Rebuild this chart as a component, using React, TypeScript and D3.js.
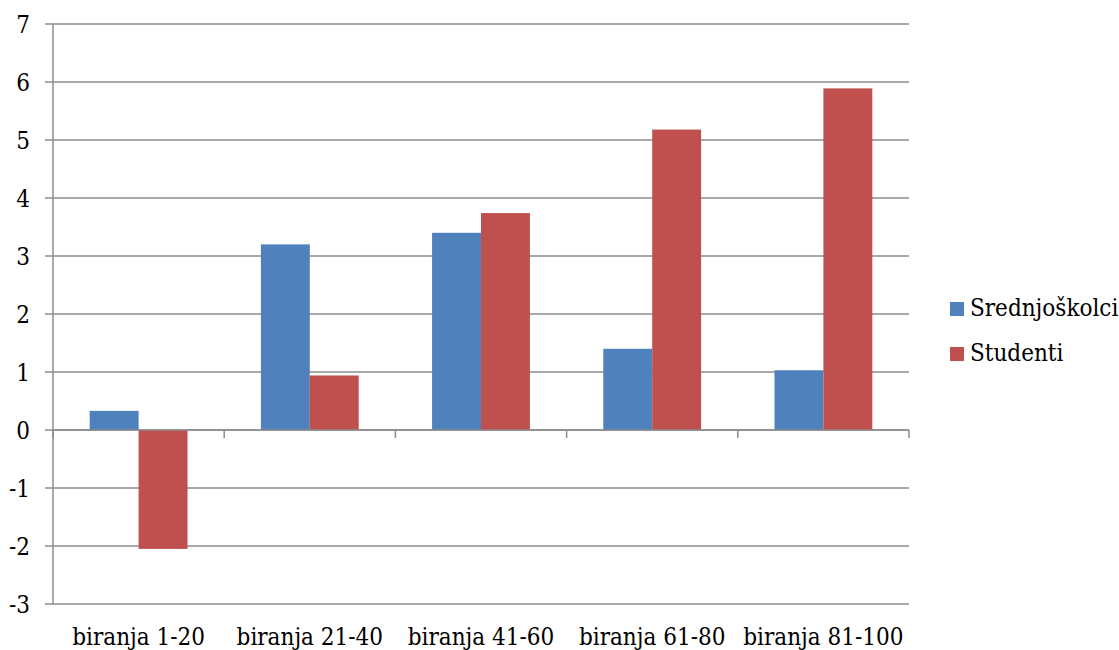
import { useRef, useEffect } from 'react';
import * as d3 from 'd3';

const categories = ['biranja 1-20', 'biranja 21-40', 'biranja 41-60', 'biranja 61-80', 'biranja 81-100'];
const seriesNames = ['Srednjoškolci', 'Studenti'];
const srednjoskolci = [0.33, 3.2, 3.4, 1.4, 1.03];
const studenti = [-2.05, 0.94, 3.74, 5.18, 5.89];
const yTicks = [-3, -2, -1, 0, 1, 2, 3, 4, 5, 6, 7];
const colors = ['#4F81BD', '#C0504D'];

const width = 1119;
const height = 650;
const marginLeft = 53;
const marginRight = 210;
const marginTop = 24;
const marginBottom = 46;
const font = "'DejaVu Serif Condensed', 'DejaVu Serif'";
const gridColor = '#8c8c8c';

export default function App() {
  const gx = useRef<SVGGElement>(null);

  const x = d3.scaleBand(categories, [marginLeft, width - marginRight]).paddingInner(0).paddingOuter(0);
  const xs = d3.scaleBand(seriesNames, [0, x.bandwidth()]).paddingInner(0).paddingOuter(0.75);
  const y = d3.scaleLinear([-3, 7], [height - marginBottom, marginTop]);
  const values = [srednjoskolci, studenti];

  useEffect(() => {
    // category tick marks hanging off the zero line
    const g = d3.select(gx.current);
    g.selectAll('*').remove();
    const edges = categories.map((c) => x(c) as number).concat([width - marginRight]);
    g.selectAll('line')
      .data(edges)
      .join('line')
      .attr('x1', (d) => d)
      .attr('x2', (d) => d)
      .attr('y1', y(0))
      .attr('y2', y(0) + 8)
      .attr('stroke', gridColor)
      .attr('stroke-width', 1.5);
  }, [x, y]);

  return (
    <svg width={width} height={height} style={{ position: 'absolute', left: 0, top: 0, background: '#fff', fontFamily: font, fontStretch: 'condensed' }}>
      <g>
        {yTicks.map((t) => (
          <g key={t}>
            <line x1={marginLeft - 8} x2={width - marginRight} y1={y(t)} y2={y(t)} stroke={gridColor} strokeWidth={1.5} />
            <text x={30} y={y(t) + 9} textAnchor="end" fontSize={24} fill="#000">{t}</text>
          </g>
        ))}
      </g>
      <line x1={marginLeft} x2={marginLeft} y1={y(7)} y2={y(-3)} stroke={gridColor} strokeWidth={1.5} />
      <g>
        {categories.map((c, i) => (
          <g key={c}>
            {seriesNames.map((s, k) => {
              const v = values[k][i];
              return (
                <rect
                  key={s}
                  x={(x(c) as number) + (xs(s) as number)}
                  y={y(Math.max(0, v))}
                  width={xs.bandwidth()}
                  height={Math.abs(y(v) - y(0))}
                  fill={colors[k]}
                />
              );
            })}
          </g>
        ))}
      </g>
      <line x1={marginLeft} x2={width - marginRight} y1={y(0)} y2={y(0)} stroke={gridColor} strokeWidth={1.5} />
      <g ref={gx} />
      <g>
        {categories.map((c) => (
          <text key={c} x={(x(c) as number) + x.bandwidth() / 2} y={645} textAnchor="middle" fontSize={24} fill="#000">{c}</text>
        ))}
      </g>
      <g>
        {seriesNames.map((s, k) => (
          <g key={s} transform={`translate(950,${302 + k * 45})`}>
            <rect width={14} height={14} fill={colors[k]} />
            <text x={20} y={14} fontSize={24} fill="#000">{s}</text>
          </g>
        ))}
      </g>
    </svg>
  );
}
